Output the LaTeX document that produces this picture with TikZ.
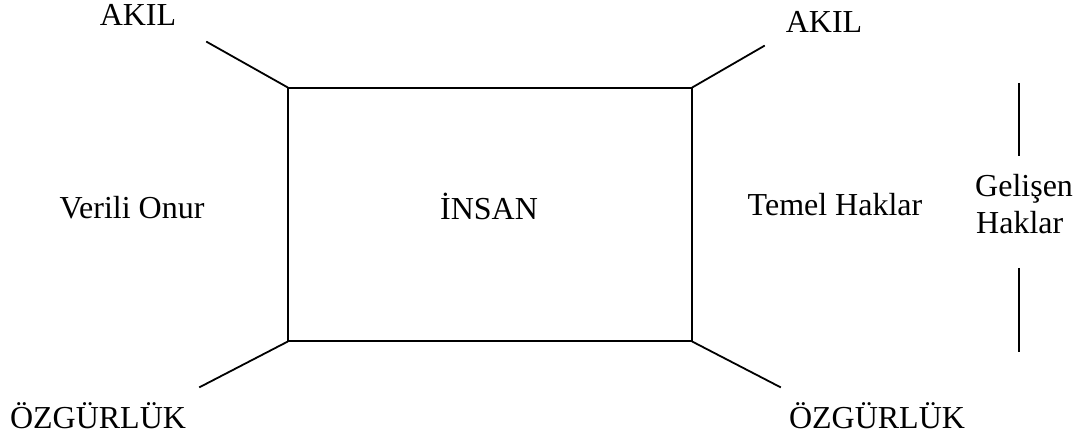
\documentclass[tikz,border=0pt]{standalone}
\usepackage{fontspec}
\setmainfont{Liberation Serif}
\begin{document}
\begin{tikzpicture}[x=1pt,y=1pt,
  lbl/.style={inner sep=0pt,font=\fontsize{32}{38}\selectfont,anchor=base},
  rule/.style={line width=1.8pt,line cap=rect}]
\useasboundingbox (0,0) rectangle (1082,443);
% central box
\node[draw,rule,minimum width=404pt,minimum height=253pt,inner sep=0pt] (box) at (490,228.5) {};
\node[lbl] (insan) at (489,223) {İNSAN};
% corner labels and connector ends
\node[lbl] (akilL) at (138,417) {AKIL};
\node[lbl] (akilR) at (824,410) {AKIL};
\node[lbl] (ozgL) at (98,14) {ÖZGÜRLÜK};
\node[lbl] (ozgR) at (877,14) {ÖZGÜRLÜK};
\coordinate (tl) at (207,401);
\coordinate (tr) at (764,397);
\coordinate (bl) at (200,56);
\coordinate (br) at (780,56);
\draw[rule] (box.north west) -- (tl);
\draw[rule] (box.north east) -- (tr);
\draw[rule] (box.south west) -- (bl);
\draw[rule] (box.south east) -- (br);
% side labels
\node[lbl] (onur) at (132,224) {Verili Onur};
\node[lbl] (temel) at (835,227) {Temel Haklar};
\node[lbl,anchor=base west] (gel) at (975,246) {Gelişen};
\node[lbl,anchor=base west] (hak) at (976,209) {Haklar};
% vertical bar around the right label
\coordinate (v1) at (1019,360);
\coordinate (v2) at (1019,287);
\coordinate (v3) at (1019,175);
\coordinate (v4) at (1019,91);
\draw[rule,line cap=butt] (v1) -- (v2);
\draw[rule,line cap=butt] (v3) -- (v4);
\end{tikzpicture}
\end{document}
